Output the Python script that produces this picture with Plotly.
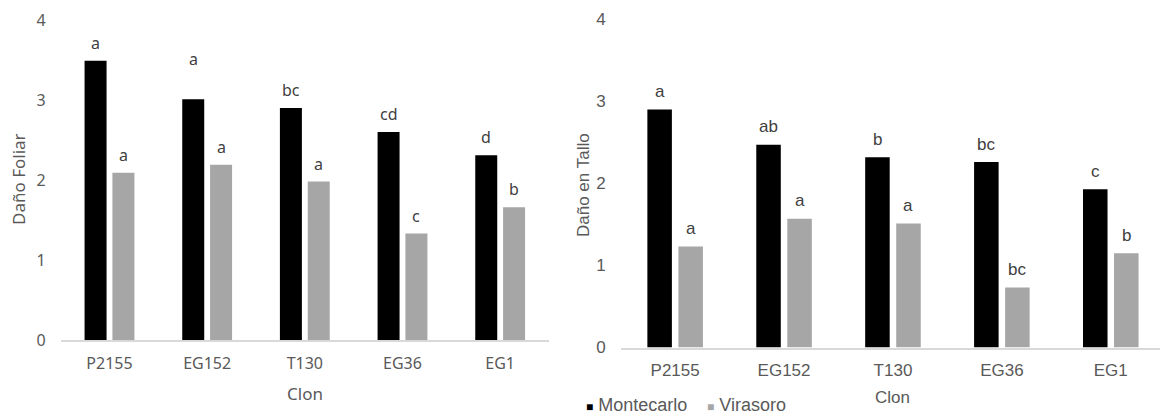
import plotly.graph_objects as go

# ---- data -------------------------------------------------------------
clones = ["P2155", "EG152", "T130", "EG36", "EG1"]
sites = ["Montecarlo", "Virasoro"]

foliar_montecarlo = [3.49, 3.01, 2.90, 2.60, 2.31]
foliar_virasoro = [2.09, 2.19, 1.98, 1.33, 1.66]
foliar_letters_montecarlo = ["a", "a", "bc", "cd", "d"]
foliar_letters_virasoro = ["a", "a", "a", "c", "b"]

tallo_montecarlo = [2.90, 2.47, 2.32, 2.26, 1.93]
tallo_virasoro = [1.23, 1.57, 1.51, 0.73, 1.15]
tallo_letters_montecarlo = ["a", "ab", "b", "bc", "c"]
tallo_letters_virasoro = ["a", "a", "a", "bc", "b"]

y_ticks = [0, 1, 2, 3, 4]

# ---- page geometry (pixels) -----------------------------------------
W, H = 1160, 415
BARGAP, GROUPGAP = 0.43, 0.21
COLORS = {"Montecarlo": "#000000", "Virasoro": "#a6a6a6"}
TXT = "#595959"
LET = "#404040"


def xdom(x0, x1):
    return [x0 / W, x1 / W]


def ydom(top, bottom):
    return [(H - bottom) / H, (H - top) / H]


fig = go.Figure()

panels = [
    dict(xa="x", ya="y", vals=[foliar_montecarlo, foliar_virasoro],
         letters=[foliar_letters_montecarlo, foliar_letters_virasoro],
         font="Noto Sans", lab=16, title_y=393),
    dict(xa="x2", ya="y2", vals=[tallo_montecarlo, tallo_virasoro],
         letters=[tallo_letters_montecarlo, tallo_letters_virasoro],
         font="Liberation Sans", lab=17, title_y=397),
]

offset = (1 - BARGAP) / 4
annotations = []
for p in panels:
    for k, (site, vals, lets) in enumerate(zip(sites, p["vals"], p["letters"])):
        fig.add_trace(go.Bar(
            x=clones, y=vals, name=site, xaxis=p["xa"], yaxis=p["ya"],
            marker=dict(color=COLORS[site], line=dict(width=0)),
            showlegend=False,
        ))
        dx = -offset if k == 0 else offset
        for i, (v, t) in enumerate(zip(vals, lets)):
            shift = 18
            # the EG152 / Montecarlo letter on the leaf-damage panel sits higher
            if p["xa"] == "x" and k == 0 and clones[i] == "EG152":
                shift = 40
            annotations.append(dict(
                x=i + dx, y=v, xref=p["xa"], yref=p["ya"], text=t,
                showarrow=False, yshift=shift, yanchor="middle",
                font=dict(family=p["font"], size=p["lab"], color=LET),
            ))
    # x-axis title centred on the category span
    annotations.append(dict(
        x=2, xref=p["xa"], y=1 - p["title_y"] / H, yref="paper",
        text="Clon", showarrow=False, yanchor="middle",
        font=dict(family=p["font"], size=17, color=TXT),
    ))

# y-axis titles
annotations.append(dict(
    x=18 / W, y=1 - 179 / H, xref="paper", yref="paper", text="Daño Foliar",
    textangle=-90, showarrow=False, xanchor="center", yanchor="middle",
    font=dict(family="Noto Sans", size=17, color=TXT),
))
annotations.append(dict(
    x=583 / W, y=1 - 185 / H, xref="paper", yref="paper", text="Daño en Tallo",
    textangle=-90, showarrow=False, xanchor="center", yanchor="middle",
    font=dict(family="Liberation Sans", size=17, color=TXT),
))

# legend drawn as text with coloured squares
legend_x = [584, 705]
for site, lx in zip(sites, legend_x):
    annotations.append(dict(
        x=lx / W, y=1 - 405 / H, xref="paper", yref="paper",
        text=f'<span style="color:{COLORS[site]};font-size:12px">■</span> {site}',
        showarrow=False, xanchor="left", yanchor="middle",
        font=dict(family="Liberation Sans", size=18, color=TXT),
    ))

axis_line = dict(showline=True, linecolor="#d9d9d9", linewidth=1.5,
                 ticks="", showgrid=False, zeroline=False, automargin=False)
y_common = dict(tickvals=y_ticks, showline=False, showgrid=False,
                zeroline=False, automargin=False, range=[0, 4])

fig.update_layout(
    width=W, height=H,
    margin=dict(l=0, r=0, t=0, b=0, autoexpand=False),
    paper_bgcolor="white", plot_bgcolor="white",
    barmode="group", bargap=BARGAP, bargroupgap=GROUPGAP,
    annotations=annotations,
    xaxis=dict(domain=xdom(60.65, 549), range=[-0.5, 4.5], anchor="y",
               tickfont=dict(family="Noto Sans", size=16, color=TXT),
               ticklabelstandoff=8, **axis_line),
    yaxis=dict(domain=ydom(20, 340), anchor="x",
               tickfont=dict(family="Noto Sans", size=16, color=TXT),
               ticklabelstandoff=14, **y_common),
    xaxis2=dict(domain=xdom(620.7, 1160), range=[-0.5, 4.452], anchor="y2",
                tickfont=dict(family="Liberation Sans", size=17, color=TXT),
                ticklabelstandoff=6, **axis_line),
    yaxis2=dict(domain=ydom(19.3, 347.5), anchor="x2",
                tickfont=dict(family="Liberation Sans", size=17, color=TXT),
                ticklabelstandoff=14, **y_common),
)

fig.write_html("out.html")
